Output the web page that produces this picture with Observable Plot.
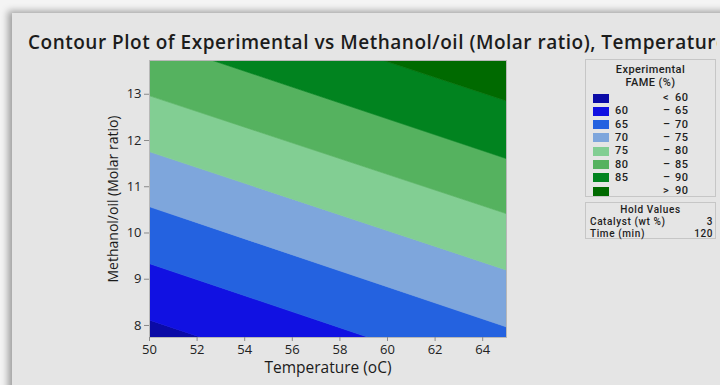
<!DOCTYPE html>
<html>
<head>
<meta charset="utf-8">
<script src="https://cdn.jsdelivr.net/npm/d3@7"></script>
<script src="https://cdn.jsdelivr.net/npm/@observablehq/plot@0.6"></script>
<style>
  html, body { margin: 0; padding: 0; }
  body { width: 720px; height: 385px; overflow: hidden; position: relative; background: #f4f4f4; font-family: "Open Sans", sans-serif; }
  #panel { position: absolute; left: 12px; top: 13px; width: 760px; height: 420px; background: #e5e5e5; box-shadow: -4px -2px 7px rgba(0,0,0,0.35); }
  #title, #measure { position: absolute; left: 28px; top: 30px; font-weight: 600; color: #1c1c1c; white-space: nowrap; font-size: 19px; line-height: 24px; }
  #title { width: 689px; overflow: hidden; }
  #measure { visibility: hidden; }
  #chart { position: absolute; left: 0; top: 0; }
  .box { position: absolute; left: 585px; width: 131px; border: 1px solid #c6c6c6; box-sizing: border-box; color: #1e1e1e; font-family: Roboto, sans-serif; font-weight: 500; }
  #legend { top: 59px; height: 138px; font-size: 11px; line-height: 12px; letter-spacing: 0.4px; }
  #hold { top: 202px; height: 37px; font-size: 10px; line-height: 11px; letter-spacing: 0.6px; }
  .ltitle { position: absolute; left: 0; width: 100%; text-align: center; }
  .sw { position: absolute; left: 7px; width: 16px; height: 9px; }
  .lt { position: absolute; white-space: nowrap; }
</style>
</head>
<body>
<div id="panel"></div>
<span id="measure"></span>
<div id="title"></div>
<div id="chart"></div>
<div id="legend" class="box"></div>
<div id="hold" class="box"></div>
<script>
// ---- data ----
const titleText = "Contour Plot of Experimental vs Methanol/oil (Molar ratio), Temperature (oC)";
const titleVisible = "Contour Plot of Experimental vs Methanol/oil (Molar ratio), Temperatur";
const xLabel = "Temperature (oC)";
const yLabel = "Methanol/oil (Molar ratio)";
const xTicks = [50, 52, 54, 56, 58, 60, 62, 64];
const yTicks = [8, 9, 10, 11, 12, 13];
const tempEnds = [50, 65];
const levels = [60, 65, 70, 75, 80, 85, 90];
// Methanol/oil value where each contour level crosses T = 50 and T = 65
const boundaryAt50 = [8.11, 9.33, 10.56, 11.75, 12.96, 14.18, 15.39];
const boundaryAt65 = [5.51, 6.73, 7.96, 9.19, 10.41, 11.60, 12.85];
const legendTitle = ["Experimental", "FAME (%)"];
const holdTitle = "Hold Values";
const holdNames = ["Catalyst (wt %)", "Time (min)"];
const holdValues = [3, 120];

// ---- styles ----
const colors = ["#0b0ba6", "#1111e2", "#2462e0", "#7ea6dc", "#82ce93", "#55b25f", "#01831f", "#006a00"];

// ---- build bands ----
const nb = levels.length + 1;
const bandLabels = ["< " + levels[0]]
  .concat(levels.slice(1).map((l, i) => levels[i] + " – " + l))
  .concat(["> " + levels[levels.length - 1]]);
const bounds = [boundaryAt50, boundaryAt65];
const rows = [];
bandLabels.forEach((b, i) => {
  tempEnds.forEach((t, j) => {
    rows.push({
      T: t,
      lo: i === 0 ? 0 : bounds[j][i - 1],
      hi: i === nb - 1 ? 20 : bounds[j][i],
      band: b
    });
  });
});

// ---- title: fit the visible part to the reference width ----
const title = document.getElementById("title");
title.textContent = titleText;
{
  const m = document.getElementById("measure");
  m.textContent = titleVisible;
  const w = m.getBoundingClientRect().width;
  const target = 688;
  title.style.letterSpacing = ((target - w) / titleVisible.length).toFixed(3) + "px";
  m.remove();
}

const chart = Plot.plot({
  width: 720,
  height: 385,
  marginLeft: 149,
  marginRight: 214,
  marginTop: 60,
  marginBottom: 48,
  x: { domain: [50, 65] },
  y: { domain: [7.74, 13.73] },
  color: { domain: bandLabels, range: colors },
  style: { background: "transparent", fontFamily: "Open Sans, sans-serif", fontSize: "13px", color: "#222" },
  marks: [
    Plot.areaY(rows, { x: "T", y1: "lo", y2: "hi", fill: "band", stroke: "band", strokeWidth: 0.6, z: "band", clip: true }),
    Plot.frame({ stroke: "#b8b8b8" }),
    Plot.axisX({ ticks: xTicks, tickFormat: d3.format("d"), tickSize: 4, tickPadding: 3, label: null, stroke: "#8a8a8a", fill: "#222" }),
    Plot.axisY({ ticks: yTicks, tickFormat: d3.format("d"), tickSize: 5, tickPadding: 3, label: null, stroke: "#8a8a8a", fill: "#222" }),
    Plot.text([xLabel], { text: d => d, frameAnchor: "bottom", lineAnchor: "middle", textAnchor: "middle", dy: 31, fontSize: 15.5, fontWeight: 500, fill: "#1a1a1a" }),
    Plot.text([yLabel], { text: d => d, frameAnchor: "left", lineAnchor: "middle", textAnchor: "middle", dx: -36, rotate: -90, fontSize: 14, fontWeight: 500, fill: "#1a1a1a" })
  ]
});
document.getElementById("chart").appendChild(chart);

// ---- legend ----
const legend = document.getElementById("legend");
legendTitle.forEach((t, i) => {
  const d = document.createElement("div");
  d.className = "ltitle"; d.textContent = t; d.style.top = (3.5 + i * 13) + "px";
  legend.appendChild(d);
});
bandLabels.forEach((b, i) => {
  const cy = 38 + i * 13.3;
  const sw = document.createElement("div");
  sw.className = "sw"; sw.style.top = (cy - 4.5) + "px"; sw.style.background = colors[i];
  legend.appendChild(sw);
  const lo = (i === 0 || i === nb - 1) ? "" : String(levels[i - 1]);
  const mid = i === 0 ? "<" : (i === nb - 1 ? ">" : "–");
  const hi = i === nb - 1 ? String(levels[levels.length - 1]) : String(levels[i]);
  [[lo, 29], [mid, 77], [hi, 89]].forEach(([t, x]) => {
    if (!t) return;
    const s = document.createElement("div");
    s.className = "lt"; s.textContent = t; s.style.left = x + "px"; s.style.top = (cy - 6) + "px";
    legend.appendChild(s);
  });
});

// ---- hold values ----
const hold = document.getElementById("hold");
const ht = document.createElement("div");
ht.className = "ltitle"; ht.textContent = holdTitle; ht.style.top = "1px";
hold.appendChild(ht);
holdNames.forEach((n, i) => {
  const a = document.createElement("div");
  a.className = "lt"; a.textContent = n; a.style.left = "4px"; a.style.top = (13 + i * 11.8) + "px";
  hold.appendChild(a);
  const v = document.createElement("div");
  v.className = "lt"; v.textContent = holdValues[i]; v.style.right = "2px"; v.style.top = (13 + i * 11.8) + "px";
  hold.appendChild(v);
});
</script>
</body>
</html>
